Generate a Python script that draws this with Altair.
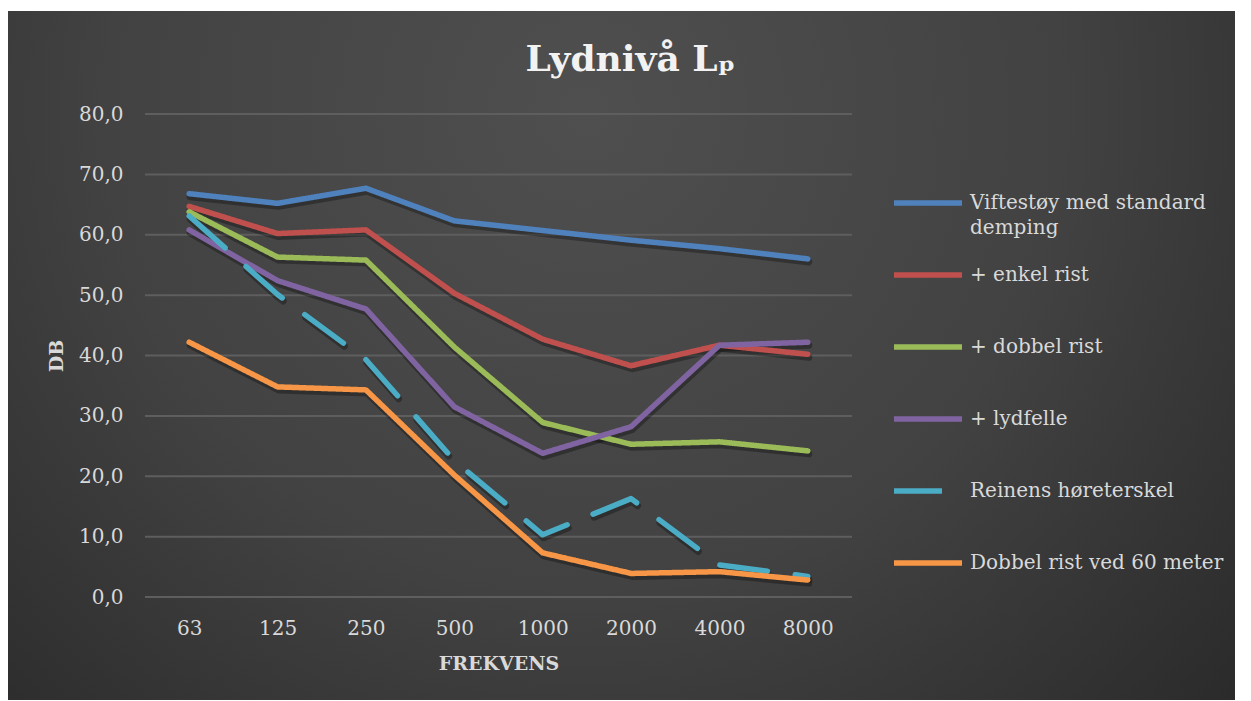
import altair as alt
import pandas as pd

freqs = ["63", "125", "250", "500", "1000", "2000", "4000", "8000"]
series_names = [
    "Viftestøy med standard demping",
    "+ enkel rist",
    "+ dobbel rist",
    "+ lydfelle",
    "Reinens høreterskel",
    "Dobbel rist ved 60 meter",
]
vifte = [66.8, 65.2, 67.7, 62.3, 60.7, 59.1, 57.7, 56.0]
enkel = [64.7, 60.2, 60.8, 50.3, 42.7, 38.3, 41.7, 40.2]
dobbel = [63.8, 56.3, 55.8, 41.4, 28.9, 25.3, 25.7, 24.2]
lydfelle = [60.8, 52.4, 47.7, 31.5, 23.8, 28.2, 41.7, 42.2]
reinen = [63.1, 50.1, 39.3, 22.6, 10.3, 16.3, 5.3, 3.4]
dobbel60 = [42.2, 34.8, 34.3, 20.2, 7.3, 3.9, 4.2, 2.8]
colors = ["#4f81bd", "#c0504d", "#9bbb59", "#8064a2", "#4bacc6", "#f79646"]
y_ticks = [0, 10, 20, 30, 40, 50, 60, 70, 80]

all_values = [vifte, enkel, dobbel, lydfelle, reinen, dobbel60]
rows = []
for name, vals in zip(series_names, all_values):
    for f, v in zip(freqs, vals):
        rows.append({"series": name, "freq": f, "value": v})
df = pd.DataFrame(rows)
grid_df = pd.DataFrame({"value": y_ticks})

W, H = 707, 483
PL, PT, PR, PB = 137, 106, 391, 103
FONT = "DejaVu Serif"

dash_range = [[1, 0], [1, 0], [1, 0], [1, 0], [48, 28], [1, 0]]

label_expr = ("datum.label == 'Viftestøy med standard demping' ? "
              "['Viftestøy med standard', 'demping'] : [datum.label, '']")
legend_common = dict(title=None, labelExpr=label_expr)

x_enc = alt.X(
    "freq:N",
    sort=freqs,
    scale=alt.Scale(type="point", padding=0.5),
    axis=alt.Axis(
        title="FREKVENS",
        labelAngle=0,
        labelPadding=21,
        titlePadding=16,
        grid=False,
        ticks=False,
        domain=False,
        zindex=1,
    ),
)
y_enc = alt.Y(
    "value:Q",
    scale=alt.Scale(domain=[0, 80], nice=False),
    axis=alt.Axis(
        title="DB",
        values=y_ticks,
        labelExpr="replace(format(datum.value, '.1f'), '.', ',')",
        labelPadding=22,
        grid=False,
        ticks=False,
        domain=False,
        titleX=-89,
        titleY=H / 2,
        titleBaseline="middle",
        titleAngle=-90,
        zindex=1,
    ),
)

bg = alt.Chart(pd.DataFrame({"a": [0]})).mark_rect(
    fill=alt.RadialGradient(
        gradient="radial",
        x1=0.47, y1=0.3, r1=0.0,
        x2=0.47, y2=0.3, r2=0.78,
        stops=[
            alt.GradientStop(offset=0, color="#4f4f4f"),
            alt.GradientStop(offset=0.5, color="#424242"),
            alt.GradientStop(offset=1, color="#262626"),
        ],
    ),
).encode(
    x=alt.value(-138), x2=alt.value(W + PR - 8),
    y=alt.value(-103), y2=alt.value(H + PB),
)

grid = alt.Chart(grid_df).mark_rule(color="#5e5e5e", strokeWidth=2).encode(
    y=y_enc, x=alt.value(0), x2=alt.value(W)
)

solid_names = [n for n in series_names if n != "Reinens høreterskel"]

shadow_solid = alt.Chart(df).transform_filter(
    alt.FieldOneOfPredicate(field="series", oneOf=solid_names)
).mark_line(
    color="black", opacity=0.3, strokeWidth=7, yOffset=3, xOffset=1,
    strokeCap="round", strokeJoin="round",
).encode(x=x_enc, y=y_enc, detail="series:N")

shadow_dash = alt.Chart(df).transform_filter(
    alt.FieldEqualPredicate(field="series", equal="Reinens høreterskel")
).mark_line(
    color="black", opacity=0.3, strokeWidth=7, yOffset=3, xOffset=1,
    strokeCap="round", strokeJoin="round", strokeDash=[48, 28],
).encode(x=x_enc, y=y_enc)

lines = alt.Chart(df).mark_line(
    strokeWidth=5.5, strokeCap="round", strokeJoin="round",
).encode(
    x=x_enc,
    y=y_enc,
    color=alt.Color(
        "series:N",
        sort=series_names,
        scale=alt.Scale(domain=series_names, range=colors),
        legend=alt.Legend(**legend_common),
    ),
    strokeDash=alt.StrokeDash(
        "series:N",
        sort=series_names,
        scale=alt.Scale(domain=series_names, range=dash_range),
        legend=alt.Legend(**legend_common),
    ),
)

chart = alt.layer(bg, grid, shadow_solid, shadow_dash, lines).properties(
    width=W,
    height=H,
    autosize=alt.AutoSizeParams(type="none"),
    padding={"left": PL, "top": PT, "right": PR, "bottom": PB},
    title=alt.TitleParams(
        text="Lydnivå Lₚ",
        font=FONT,
        fontSize=36,
        fontWeight="bold",
        color="#f2f2f2",
        anchor="middle",
        frame="group",
        dx=132,
        offset=-96,
        baseline="alphabetic",
    ),
).configure(
    background="white",
    style={"guide-label": {"lineHeight": 25}},
).configure_view(
    stroke=None,
).configure_axis(
    labelFont=FONT,
    labelFontSize=20,
    labelColor="#d9d9d9",
    titleFont=FONT,
    titleFontSize=19,
    titleFontWeight="bold",
    titleColor="#d9d9d9",
).configure_legend(
    orient="none",
    legendX=746,
    legendY=52,
    padding=0,
    symbolType="stroke",
    symbolSize=4624,
    symbolStrokeWidth=5.5,
    symbolOffset=0,
    labelOffset=5,
    labelFont=FONT,
    labelFontSize=20,
    labelColor="#d9d9d9",
    labelLimit=0,
    rowPadding=0,
)

chart.save("out.html", embed_options={"renderer": "svg", "actions": False})
